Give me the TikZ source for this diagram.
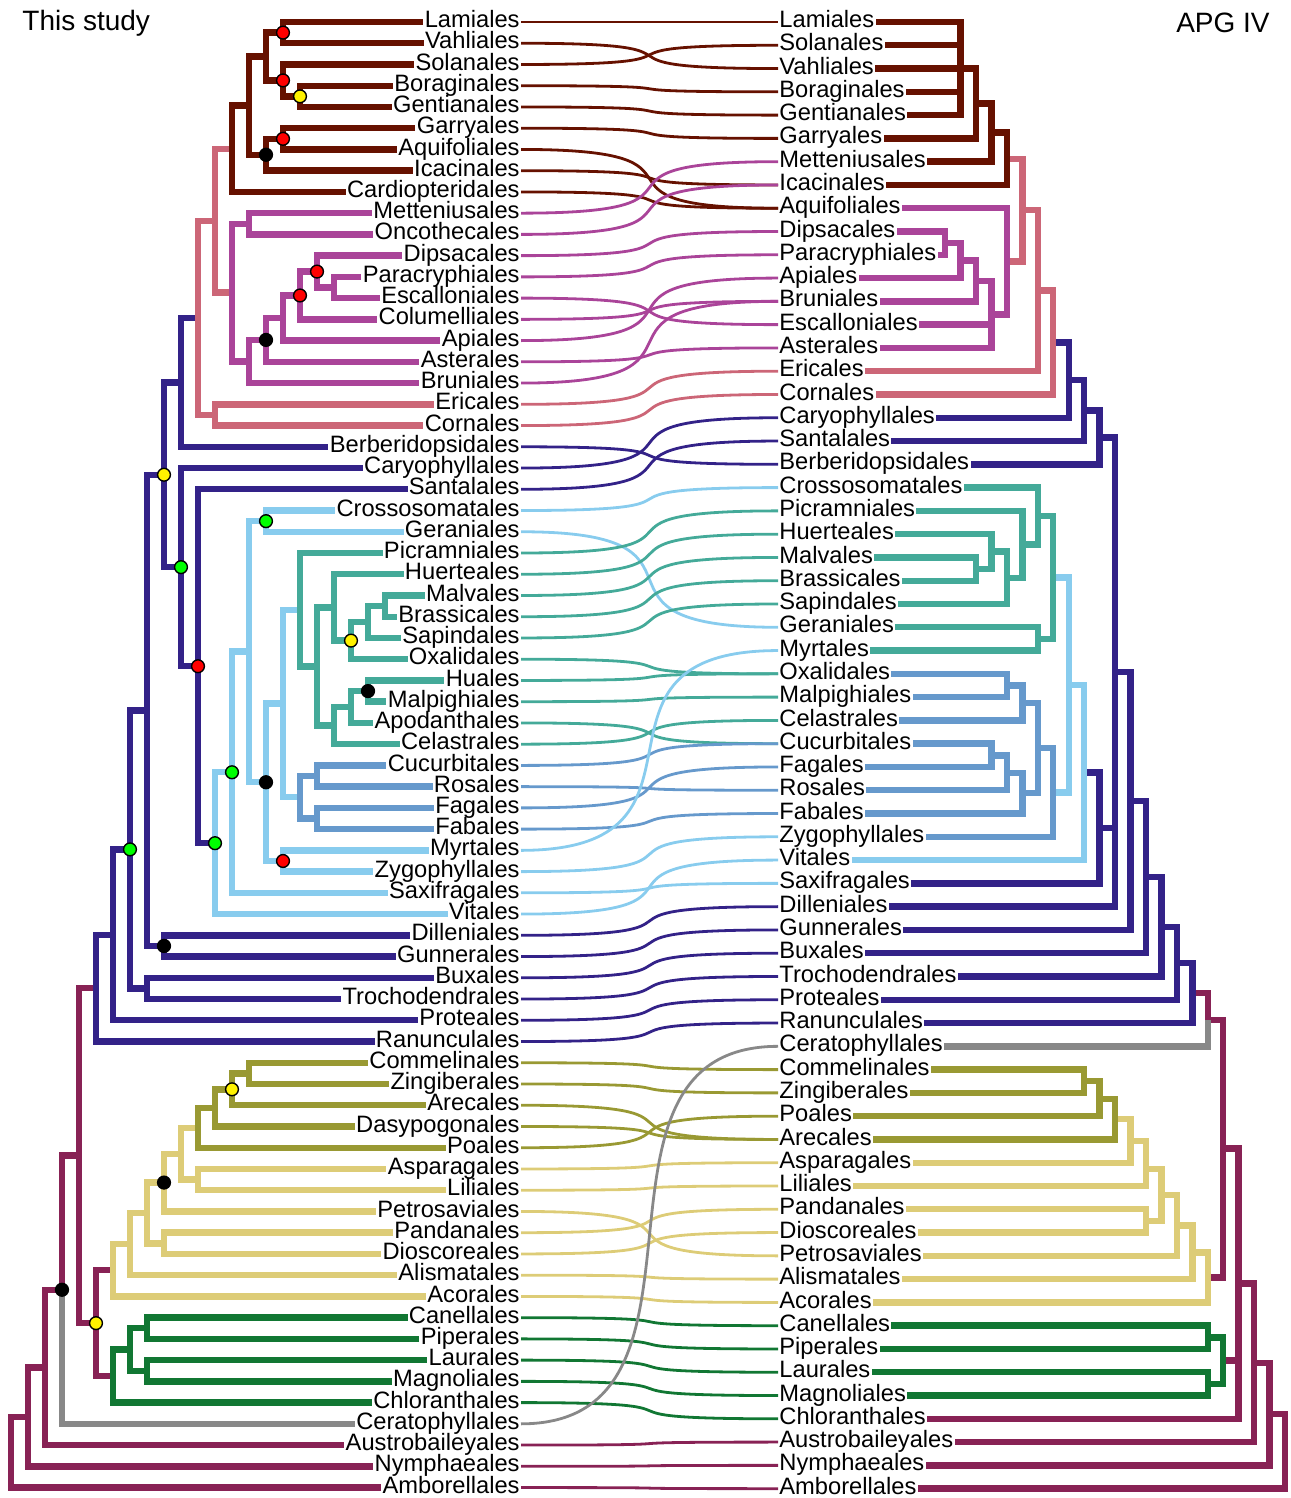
\documentclass[tikz,border=0pt]{standalone}
\usepackage{fontspec}
\setmainfont{Liberation Sans}
\usetikzlibrary{calc}
\definecolor{lamC}{HTML}{661100}
\definecolor{campC}{HTML}{AA4499}
\definecolor{astC}{HTML}{CC6677}
\definecolor{eudC}{HTML}{332288}
\definecolor{rosC}{HTML}{88CCEE}
\definecolor{malC}{HTML}{44AA99}
\definecolor{fabC}{HTML}{6699CC}
\definecolor{comC}{HTML}{999933}
\definecolor{monC}{HTML}{DDCC77}
\definecolor{magC}{HTML}{117733}
\definecolor{basC}{HTML}{882255}
\definecolor{cerC}{HTML}{888888}
\tikzset{
	branch/.style={line width=3.2pt},
	link/.style={line width=1.4pt},
	taxon/.style={font=\fontsize{11.85pt}{14pt}\selectfont, inner sep=0.5pt, text height=8.6pt, text depth=3pt},
	support/.style={draw=black, line width=0.7pt},
	declare function={lefty(\i)=22+21.24*\i; righty(\i)=22+23.28*\i; leftx(\d)=11+17*\d; rightx(\d)=1285-15.45*\d;}
}
\begin{document}
\begin{tikzpicture}[x=0.5pt,y=-0.5pt]
	\useasboundingbox (0,0) rectangle (1290,1498);

	\node[anchor=west, font=\fontsize{14pt}{16pt}\selectfont, inner sep=0pt] (lefttitle) at (22,23) {This study};
	\node[anchor=east, font=\fontsize{14pt}{16pt}\selectfont, inner sep=0pt] (righttitle) at (1270,23) {APG IV};

	% taxa
	\foreach \n [count=\i from 0] in {Lamiales, Vahliales, Solanales, Boraginales, Gentianales, Garryales, Aquifoliales, Icacinales, Cardiopteridales, Metteniusales, Oncothecales, Dipsacales, Paracryphiales, Escalloniales, Columelliales, Apiales, Asterales, Bruniales, Ericales, Cornales, Berberidopsidales, Caryophyllales, Santalales, Crossosomatales, Geraniales, Picramniales, Huerteales, Malvales, Brassicales, Sapindales, Oxalidales, Huales, Malpighiales, Apodanthales, Celastrales, Cucurbitales, Rosales, Fagales, Fabales, Myrtales, Zygophyllales, Saxifragales, Vitales, Dilleniales, Gunnerales, Buxales, Trochodendrales, Proteales, Ranunculales, Commelinales, Zingiberales, Arecales, Dasypogonales, Poales, Asparagales, Liliales, Petrosaviales, Pandanales, Dioscoreales, Alismatales, Acorales, Canellales, Piperales, Laurales, Magnoliales, Chloranthales, Ceratophyllales, Austrobaileyales, Nymphaeales, Amborellales}
	{
		\node[taxon, anchor=east] (l\i) at (521,{lefty(\i)}) {\n};
	}
	\foreach \n [count=\i from 0] in {Lamiales, Solanales, Vahliales, Boraginales, Gentianales, Garryales, Metteniusales, Icacinales, Aquifoliales, Dipsacales, Paracryphiales, Apiales, Bruniales, Escalloniales, Asterales, Ericales, Cornales, Caryophyllales, Santalales, Berberidopsidales, Crossosomatales, Picramniales, Huerteales, Malvales, Brassicales, Sapindales, Geraniales, Myrtales, Oxalidales, Malpighiales, Celastrales, Cucurbitales, Fagales, Rosales, Fabales, Zygophyllales, Vitales, Saxifragales, Dilleniales, Gunnerales, Buxales, Trochodendrales, Proteales, Ranunculales, Ceratophyllales, Commelinales, Zingiberales, Poales, Arecales, Asparagales, Liliales, Pandanales, Dioscoreales, Petrosaviales, Alismatales, Acorales, Canellales, Piperales, Laurales, Magnoliales, Chloranthales, Austrobaileyales, Nymphaeales, Amborellales}
	{
		\node[taxon, anchor=west] (r\i) at (778,{righty(\i)}) {\n};
	}

	% inner nodes, this study
	\foreach \n/\d/\i in {lamvah/16/0.5, borgen/17/3.5, solbg/16/2.75, lama/15/1.625, garaqu/16/5.5, gai/15/6.25, lamiid/14/3.9375, lamcar/13/5.96875,
		metonc/14/9.5, paresc/19/12.5, dipc/18/11.75, colc/17/12.875, apic/16/13.9375, astc/15/14.96875, bruc/14/15.984375, camp/13/12.7421875,
		astall/12/9.3555, ericor/12/18.5, asterids/11/13.9277, berb/10/16.9639,
		crosger/15/23.5, malbra/22/27.5, mm6/21/28.25, mm5/20/29.125, mm3/19/27.5625, huamal/21/31.5, mm8/20/32.25, mm4/19/33.125, mm2/18/30.34375,
		malvids/17/27.671875, cucros/18/35.5, fagfab/18/37.5, fabids/17/36.5, malfab/16/32.0859, myrzyg/16/39.5, bnode/15/35.793,
		rosa3/14/29.6465, rosa2/13/35.3232, rosids/12/38.6616, sanros/11/30.3308, carsan/10/25.6654, supast/9/21.3146,
		dilgun/9/43.5, coreud/8/32.4073, buxtro/8/45.5, qnode/7/38.9537, prot/6/42.9768, eudicots/5/45.4884,
		comzin/14/49.5, comare/13/50.25, comdas/12/51.125, comm/11/52.0625, asplil/11/54.5, monoa/10/53.2813, monob/9/54.6406,
		pandio/9/57.5, monoc/8/56.0703, monod/7/57.5352, monocots/6/58.7676,
		canpip/8/61.5, laumag/8/63.5, canlau/7/62.5, magnol/6/63.75, mesang/5/61.2588,
		enode/4/53.3736, fnode/3/59.6868, nnode2/2/63.3434, nnode1/1/65.6717, root/0/67.3359}
	{
		\coordinate (\n) at ({leftx(\d)},{lefty(\i)});
	}

	% inner nodes, APG IV
	\foreach \n/\d/\i in {R-lam/21/2, R-gar/20/3.5, R-met/19/4.75, R-ica/18/5.875,
		R-dp/22/9.5, R-api/21/10.25, R-bru/20/11.125, R-ast/19/12.5625, R-aqu/18/10.28125,
		R-ac/17/8.0781, R-ae/16/11.5391, R-asterids/15/13.7695, R-car/14/15.3848, R-san/13/16.6924, R-berb/12/17.8462,
		R-malbra/20/23.5, R-hue/19/22.75, R-sap/18/23.875, R-pic/17/22.4375, R-cros/16/21.2188, R-germyr/16/26.5, R-malvids/15/23.8594,
		R-oxamal/18/28.5, R-cel/17/29.25, R-cucfag/19/31.5, R-ros/18/32.25, R-fab/17/33.125, R-faba/16/31.1875, R-fabids/15/33.0938,
		R-malfab/14/28.4766, R-rosids/13/32.2383, R-sax/12/34.6191, R-core/11/27.9231,
		R-gun/10/33.4615, R-bux/9/36.7308, R-tro/8/38.8654, R-pro/7/40.4327, R-eud/6/41.7163, R-cer/5/42.8582,
		R-comzin/13/45.5, R-poa/12/46.25, R-comm/11/47.125, R-asp/10/48.0625, R-lil/9/49.2813, R-pandio/9/51.5, R-pan/8/50.3906,
		R-pet/7/51.6953, R-ali/6/52.8477, R-mono/5/53.9238, R-mesa/4/48.391,
		R-canpip/5/56.5, R-laumag/5/58.5, R-magnol/4/57.5, R-n3/3/54.1955, R-n2/2/57.5978, R-n1/1/59.7989, R-root/0/61.3994}
	{
		\coordinate (\n) at ({rightx(\d)},{righty(\i)});
	}

	% branches, this study
	\foreach \p/\c/\k in {root/nnode1/basC, root/l69/basC, nnode1/nnode2/basC, nnode1/l68/basC, nnode2/fnode/basC, nnode2/l67/basC,
		fnode/enode/basC, fnode/l66/cerC, enode/eudicots/basC, enode/mesang/basC, mesang/monocots/basC, mesang/magnol/basC,
		magnol/canlau/magC, magnol/l65/magC, canlau/canpip/magC, canlau/laumag/magC,
		canpip/l61/magC, canpip/l62/magC, laumag/l63/magC, laumag/l64/magC,
		monocots/monod/monC, monocots/l60/monC, monod/monoc/monC, monod/l59/monC, monoc/monob/monC, monoc/pandio/monC,
		pandio/l57/monC, pandio/l58/monC, monob/monoa/monC, monob/l56/monC, monoa/comm/monC, monoa/asplil/monC,
		asplil/l54/monC, asplil/l55/monC,
		comm/comdas/comC, comm/l53/comC, comdas/comare/comC, comdas/l52/comC, comare/comzin/comC, comare/l51/comC,
		comzin/l49/comC, comzin/l50/comC,
		eudicots/prot/eudC, eudicots/l48/eudC, prot/qnode/eudC, prot/l47/eudC, qnode/coreud/eudC, qnode/buxtro/eudC,
		buxtro/l45/eudC, buxtro/l46/eudC, coreud/supast/eudC, coreud/dilgun/eudC, dilgun/l43/eudC, dilgun/l44/eudC,
		supast/berb/eudC, supast/carsan/eudC, berb/asterids/eudC, berb/l20/eudC,
		carsan/l21/eudC, carsan/sanros/eudC, sanros/l22/eudC, sanros/rosids/eudC,
		rosids/rosa2/rosC, rosids/l42/rosC, rosa2/rosa3/rosC, rosa2/l41/rosC, rosa3/crosger/rosC, rosa3/bnode/rosC,
		crosger/l23/rosC, crosger/l24/rosC, bnode/malfab/rosC, bnode/myrzyg/rosC, myrzyg/l39/rosC, myrzyg/l40/rosC,
		malfab/malvids/rosC, malfab/fabids/rosC,
		fabids/cucros/fabC, fabids/fagfab/fabC, cucros/l35/fabC, cucros/l36/fabC, fagfab/l37/fabC, fagfab/l38/fabC,
		malvids/l25/malC, malvids/mm2/malC, mm2/mm3/malC, mm2/mm4/malC, mm3/l26/malC, mm3/mm5/malC,
		mm5/mm6/malC, mm5/l30/malC, mm6/malbra/malC, mm6/l29/malC, malbra/l27/malC, malbra/l28/malC,
		mm4/mm8/malC, mm4/l34/malC, mm8/huamal/malC, mm8/l33/malC, huamal/l31/malC, huamal/l32/malC,
		asterids/astall/astC, asterids/ericor/astC, ericor/l18/astC, ericor/l19/astC,
		astall/lamcar/astC, astall/camp/astC,
		lamcar/lamiid/lamC, lamcar/l8/lamC, lamiid/lama/lamC, lamiid/gai/lamC, lama/lamvah/lamC, lama/solbg/lamC,
		lamvah/l0/lamC, lamvah/l1/lamC, solbg/l2/lamC, solbg/borgen/lamC, borgen/l3/lamC, borgen/l4/lamC,
		gai/garaqu/lamC, gai/l7/lamC, garaqu/l5/lamC, garaqu/l6/lamC,
		camp/metonc/campC, camp/bruc/campC, metonc/l9/campC, metonc/l10/campC, bruc/astc/campC, bruc/l17/campC,
		astc/apic/campC, astc/l16/campC, apic/colc/campC, apic/l15/campC, colc/dipc/campC, colc/l14/campC,
		dipc/l11/campC, dipc/paresc/campC, paresc/l12/campC, paresc/l13/campC}
	{
		\draw[branch, \k] (\p) |- (\c);
	}

	% branches, APG IV
	\foreach \p/\c/\k in {R-root/R-n1/basC, R-root/r63/basC, R-n1/R-n2/basC, R-n1/r62/basC, R-n2/R-n3/basC, R-n2/r61/basC,
		R-n3/R-mesa/basC, R-n3/R-magnol/basC, R-n3/r60/basC,
		R-magnol/R-canpip/magC, R-magnol/R-laumag/magC, R-canpip/r56/magC, R-canpip/r57/magC, R-laumag/r58/magC, R-laumag/r59/magC,
		R-mesa/R-cer/basC, R-mesa/R-mono/basC, R-cer/R-eud/basC, R-cer/r44/cerC,
		R-mono/R-ali/monC, R-mono/r55/monC, R-ali/R-pet/monC, R-ali/r54/monC, R-pet/R-pan/monC, R-pet/r53/monC,
		R-pan/R-lil/monC, R-pan/R-pandio/monC, R-pandio/r51/monC, R-pandio/r52/monC, R-lil/R-asp/monC, R-lil/r50/monC,
		R-asp/R-comm/monC, R-asp/r49/monC,
		R-comm/R-poa/comC, R-comm/r48/comC, R-poa/R-comzin/comC, R-poa/r47/comC, R-comzin/r45/comC, R-comzin/r46/comC,
		R-eud/R-pro/eudC, R-eud/r43/eudC, R-pro/R-tro/eudC, R-pro/r42/eudC, R-tro/R-bux/eudC, R-tro/r41/eudC,
		R-bux/R-gun/eudC, R-bux/r40/eudC, R-gun/R-core/eudC, R-gun/r39/eudC,
		R-core/R-berb/eudC, R-core/R-sax/eudC, R-core/r38/eudC, R-sax/R-rosids/eudC, R-sax/r37/eudC,
		R-rosids/R-malfab/rosC, R-rosids/r36/rosC, R-malfab/R-malvids/rosC, R-malfab/R-fabids/rosC,
		R-malvids/R-cros/malC, R-malvids/R-germyr/malC, R-germyr/r26/malC, R-germyr/r27/malC,
		R-cros/r20/malC, R-cros/R-pic/malC, R-pic/r21/malC, R-pic/R-sap/malC, R-sap/R-hue/malC, R-sap/r25/malC,
		R-hue/r22/malC, R-hue/R-malbra/malC, R-malbra/r23/malC, R-malbra/r24/malC,
		R-fabids/R-faba/fabC, R-fabids/r35/fabC, R-faba/R-cel/fabC, R-faba/R-fab/fabC,
		R-cel/R-oxamal/fabC, R-cel/r30/fabC, R-oxamal/r28/fabC, R-oxamal/r29/fabC,
		R-fab/R-ros/fabC, R-fab/r34/fabC, R-ros/R-cucfag/fabC, R-ros/r33/fabC, R-cucfag/r31/fabC, R-cucfag/r32/fabC,
		R-berb/R-san/eudC, R-berb/r19/eudC, R-san/R-car/eudC, R-san/r18/eudC, R-car/R-asterids/eudC, R-car/r17/eudC,
		R-asterids/R-ae/astC, R-asterids/r16/astC, R-ae/R-ac/astC, R-ae/r15/astC, R-ac/R-ica/astC, R-ac/R-aqu/astC,
		R-ica/R-met/lamC, R-ica/r7/lamC, R-met/R-gar/lamC, R-met/r6/lamC, R-gar/R-lam/lamC, R-gar/r5/lamC,
		R-lam/r0/lamC, R-lam/r1/lamC, R-lam/r2/lamC, R-lam/r3/lamC, R-lam/r4/lamC,
		R-aqu/r8/campC, R-aqu/R-ast/campC, R-ast/R-bru/campC, R-ast/r13/campC, R-ast/r14/campC,
		R-bru/R-api/campC, R-bru/r12/campC, R-api/R-dp/campC, R-api/r11/campC, R-dp/r9/campC, R-dp/r10/campC}
	{
		\draw[branch, \k] (\p) |- (\c);
	}

	% links between the two trees
	\foreach \a/\b/\k in {0/0/lamC, 1/2/lamC, 2/1/lamC, 3/3/lamC, 4/4/lamC, 5/5/lamC, 6/8/lamC, 7/7/lamC, 8/8/lamC,
		9/6/campC, 10/7/campC, 11/9/campC, 12/10/campC, 13/13/campC, 14/12/campC, 15/11/campC, 16/14/campC, 17/12/campC,
		18/15/astC, 19/16/astC, 20/19/eudC, 21/17/eudC, 22/18/eudC, 23/20/rosC, 24/26/rosC,
		25/21/malC, 26/22/malC, 27/23/malC, 28/24/malC, 29/25/malC, 30/28/malC, 31/28/malC, 32/29/malC, 33/31/malC, 34/30/malC,
		35/31/fabC, 36/33/fabC, 37/32/fabC, 38/34/fabC, 39/27/rosC, 40/35/rosC, 41/37/rosC, 42/36/rosC,
		43/38/eudC, 44/39/eudC, 45/40/eudC, 46/41/eudC, 47/42/eudC, 48/43/eudC,
		49/45/comC, 50/46/comC, 51/48/comC, 52/48/comC, 53/47/comC,
		54/49/monC, 55/50/monC, 56/53/monC, 57/51/monC, 58/52/monC, 59/54/monC, 60/55/monC,
		61/56/magC, 62/57/magC, 63/58/magC, 64/59/magC, 65/60/magC, 66/44/cerC, 67/61/basC, 68/62/basC, 69/63/basC}
	{
		\draw[link, \k] (l\a.east) .. controls ($(l\a.east)+(218,0)$) and ($(r\b.west)-(218,0)$) .. (r\b.west);
	}

	% node support
	\foreach \n/\k in {lamvah/red, solbg/red, borgen/yellow, garaqu/red, gai/black, dipc/red, colc/red, astc/black,
		supast/yellow, carsan/green, sanros/red, crosger/green, rosa2/green, rosids/green, bnode/black, myrzyg/red,
		mm5/yellow, huamal/black, qnode/green, dilgun/black, comare/yellow, monob/black, fnode/black, mesang/yellow}
	{
		\filldraw[support, fill=\k] (\n) circle (3.2pt);
	}
\end{tikzpicture}
\end{document}
